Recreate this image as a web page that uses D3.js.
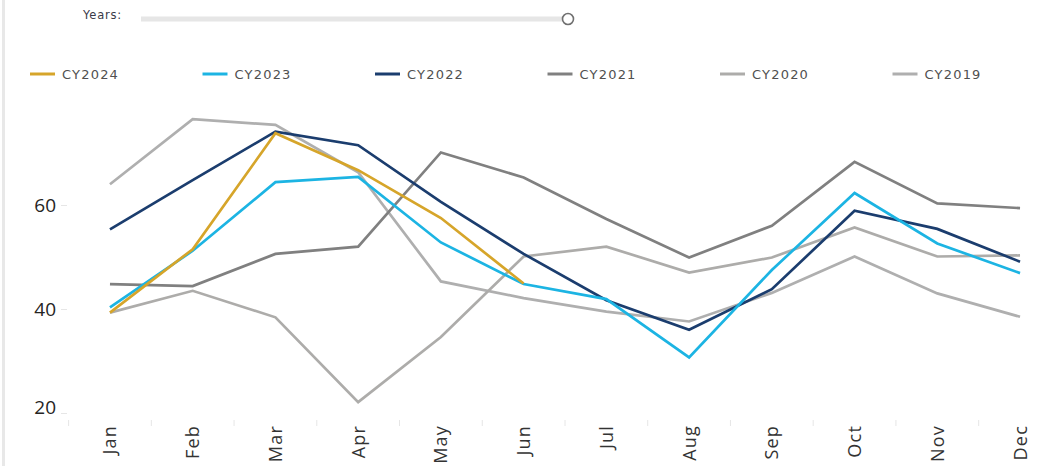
<!DOCTYPE html>
<html>
<head>
<meta charset="utf-8">
<script src="https://cdn.jsdelivr.net/npm/d3@7/dist/d3.min.js"></script>
<style>
  html, body { margin: 0; padding: 0; background: #fff; }
  svg { display: block; }
</style>
</head>
<body>
<div id="chart"></div>
<script>
// 月份與年度資料
const months = ['Jan', 'Feb', 'Mar', 'Apr', 'May', 'Jun', 'Jul', 'Aug', 'Sep', 'Oct', 'Nov', 'Dec'];
const yTicks = [20, 40, 60];

const cy2024 = [39.3, 51.5, 73.8, 66.7, 57.5, 44.9, null, null, null, null, null, null];
const cy2023 = [40.3, 51.2, 64.4, 65.4, 52.8, 44.8, 41.9, 30.7, 47.5, 62.3, 52.6, 46.9];
const cy2022 = [55.3, 64.8, 74.1, 71.5, 60.6, 50.6, 41.7, 36.0, 43.8, 58.9, 55.4, 49.1];
const cy2021 = [44.8, 44.4, 50.6, 52.0, 70.1, 65.3, 57.3, 49.9, 56.0, 68.3, 60.3, 59.4];
const cy2020 = [39.3, 43.5, 38.4, 22.1, 34.6, 50.1, 52.0, 47.0, 49.9, 55.7, 50.1, 50.3];
const cy2019 = [64.0, 76.5, 75.4, 66.3, 45.3, 42.1, 39.5, 37.6, 43.1, 50.1, 43.0, 38.5];

const seriesNames = ['CY2024', 'CY2023', 'CY2022', 'CY2021', 'CY2020', 'CY2019'];
const seriesValues = [cy2024, cy2023, cy2022, cy2021, cy2020, cy2019];
const seriesColors = ['#D6A52A', '#1CB4E3', '#1B3D6E', '#808080', '#ADACAA', '#AFAFAF'];

const W = 1058, H = 466;

const svg = d3.select('#chart')
  .append('svg')
  .attr('width', W)
  .attr('height', H);

// 左側灰色邊線
svg.append('rect')
  .attr('x', 2).attr('y', 0)
  .attr('width', 3).attr('height', H)
  .attr('fill', '#e8e8e8');

// 年份滑桿
svg.append('text')
  .attr('x', 83).attr('y', 19)
  .attr('font-family', 'DejaVu Sans')
  .attr('font-size', 11.5)
  .attr('letter-spacing', 0.8)
  .attr('fill', '#3a3a48')
  .text('Years:');

svg.append('rect')
  .attr('x', 141).attr('y', 16.5)
  .attr('width', 424).attr('height', 5)
  .attr('fill', '#e6e6e6');

svg.append('circle')
  .attr('cx', 568).attr('cy', 19).attr('r', 5.5)
  .attr('fill', '#fff')
  .attr('stroke', '#707070')
  .attr('stroke-width', 1.6);

// 圖例
const legend = svg.append('g')
  .selectAll('g')
  .data(seriesNames)
  .enter()
  .append('g')
  .attr('transform', (d, i) => `translate(${30 + i * 172.5}, 74)`);

legend.append('line')
  .attr('x1', 0).attr('x2', 25)
  .attr('stroke', (d, i) => seriesColors[i])
  .attr('stroke-width', 3);

legend.append('text')
  .attr('x', 32).attr('dy', '0.36em')
  .attr('font-family', 'DejaVu Sans')
  .attr('font-size', 13)
  .attr('letter-spacing', 1.2)
  .attr('fill', '#505050')
  .text(d => d);

// 座標軸
const x = d3.scaleBand()
  .domain(months)
  .range([68.6, 1061.4]);

const y = d3.scaleLinear()
  .domain([20, 60])
  .range([413, 205]);

const yAxis = svg.append('g')
  .attr('transform', 'translate(67,0)')
  .call(d3.axisLeft(y).tickValues(yTicks).tickSize(6).tickPadding(5).tickFormat(d3.format('d')));

yAxis.select('.domain').remove();
yAxis.selectAll('.tick line').attr('stroke', '#e6e6e6');
yAxis.selectAll('.tick text')
  .attr('font-family', 'Open Sans')
  .attr('font-size', 19)
  .attr('fill', '#252423')
  .attr('y', d => d === 20 ? -6 : 0);

// x 軸刻度（在每個區間邊界）
const bounds = months.map(m => x(m));
svg.append('g')
  .selectAll('line')
  .data(bounds)
  .enter()
  .append('line')
  .attr('x1', d => d).attr('x2', d => d)
  .attr('y1', 420).attr('y2', 426)
  .attr('stroke', '#e6e6e6');

svg.append('g')
  .selectAll('text')
  .data(months)
  .enter()
  .append('text')
  .attr('transform', d => `translate(${x(d) + x.bandwidth() / 2}, 425) rotate(-90)`)
  .attr('text-anchor', 'end')
  .attr('dy', '0.36em')
  .attr('font-family', 'Open Sans')
  .attr('font-size', 18)
  .attr('letter-spacing', 1.2)
  .attr('fill', '#333')
  .text(d => d);

// 折線：舊年度先畫，CY2024 在最上層
const line = d3.line()
  .defined(d => d != null)
  .x((d, i) => x(months[i]) + x.bandwidth() / 2)
  .y(d => y(d));

const order = d3.range(seriesNames.length).reverse();

svg.append('g')
  .attr('fill', 'none')
  .selectAll('path')
  .data(order)
  .enter()
  .append('path')
  .attr('d', i => line(seriesValues[i]))
  .attr('stroke', i => seriesColors[i])
  .attr('stroke-width', 2.7)
  .attr('stroke-linejoin', 'miter');
</script>
</body>
</html>
